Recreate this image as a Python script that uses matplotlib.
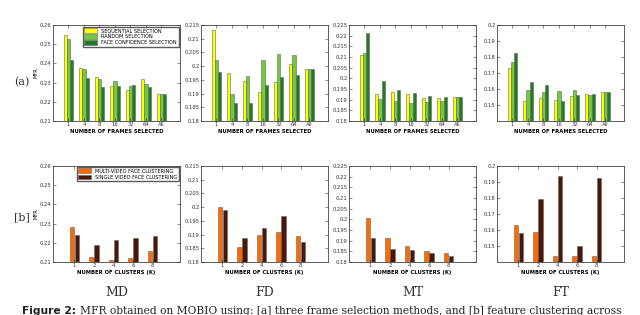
import matplotlib
matplotlib.use("Agg")
import matplotlib.pyplot as plt
import numpy as np

# top row: frame selection
frames = ["1", "4", "8", "16", "32", "64", "All"]
sel_names = ["SEQUENTIAL SELECTION", "RANDOM SELECTION", "FACE CONFIDENCE SELECTION"]
sel_md = [[0.2548, 0.2376, 0.2327, 0.2282, 0.2261, 0.2319, 0.2239],
          [0.2525, 0.2371, 0.2319, 0.2310, 0.2282, 0.2291, 0.2239],
          [0.2416, 0.2326, 0.2277, 0.2282, 0.2287, 0.2275, 0.2239]]
sel_fd = [[0.2132, 0.1975, 0.1946, 0.1907, 0.1943, 0.2009, 0.1991],
          [0.2021, 0.1898, 0.1965, 0.2021, 0.2044, 0.2041, 0.1991],
          [0.1979, 0.1864, 0.1867, 0.1930, 0.1962, 0.1967, 0.1991]]
sel_mt = [[0.2108, 0.1928, 0.1934, 0.1925, 0.1906, 0.1908, 0.1914],
          [0.2119, 0.1903, 0.1894, 0.1884, 0.1889, 0.1895, 0.1914],
          [0.2211, 0.1988, 0.1945, 0.1931, 0.1917, 0.1912, 0.1914]]
sel_ft = [[0.1733, 0.1525, 0.1542, 0.1533, 0.1554, 0.1567, 0.1581],
          [0.1771, 0.1594, 0.1579, 0.1590, 0.1596, 0.1562, 0.1581],
          [0.1827, 0.1646, 0.1627, 0.1525, 0.1560, 0.1567, 0.1581]]

# bottom row: clustering
clusters = ["1", "2", "4", "6", "8"]
clu_names = ["MULTI-VIDEO FACE CLUSTERING", "SINGLE VIDEO FACE CLUSTERING"]
clu_md = [[0.2284, 0.2124, 0.2112, 0.2119, 0.2155],
          [0.2241, 0.2190, 0.2214, 0.2224, 0.2233]]
clu_fd = [[0.1999, 0.1855, 0.1899, 0.1910, 0.1894],
          [0.1989, 0.1887, 0.1925, 0.1968, 0.1874]]
clu_mt = [[0.2008, 0.1913, 0.1874, 0.1850, 0.1840],
          [0.1913, 0.1860, 0.1857, 0.1843, 0.1829]]
clu_ft = [[0.1634, 0.1590, 0.1437, 0.1437, 0.1437],
          [0.1582, 0.1791, 0.1936, 0.1501, 0.1926]]

panel_names = ["MD", "FD", "MT", "FT"]
ylims = [(0.21, 0.26, 0.01), (0.18, 0.215, 0.005), (0.18, 0.225, 0.005), (0.14, 0.20, 0.01)]

sel_colors = ["#ffff00", "#6fcb3a", "#1f7d1f"]
clu_colors = ["#ff6a00", "#4a1808"]

caption_head = "Figure 2:"
caption_body = "MFR obtained on MOBIO using: [a] three frame selection methods, and [b] feature clustering across"

W, H = 640, 315
fig = plt.figure(figsize=(W / 100, H / 100), dpi=100)


def px_axes(x0, y0, x1, y1):
    return fig.add_axes([x0 / W, 1 - y1 / H, (x1 - x0) / W, (y1 - y0) / H])


def style(ax, lo, hi, step, skip_first=False):
    ax.set_ylim(lo, hi)
    ticks = np.arange(lo, hi + step / 2, step)
    if skip_first:
        ticks = ticks[1:]
    ax.set_yticks(ticks)
    ax.set_yticklabels(["%g" % round(t, 3) for t in ticks])
    ax.tick_params(direction="in", length=2, width=0.4, labelsize=3.8, pad=1,
                   top=True, right=True, colors="#333333")
    for s in ax.spines.values():
        s.set_linewidth(0.6)
        s.set_color("#444444")


lefts = [53, 201, 349, 497]
top_data = [sel_md, sel_fd, sel_mt, sel_ft]
bot_data = [clu_md, clu_fd, clu_mt, clu_ft]

for i in range(4):
    lo, hi, step = ylims[i]

    # frame selection
    ax = px_axes(lefts[i], 25, lefts[i] + 127, 121)
    x = np.arange(1, len(frames) + 1)
    for k in range(3):
        ax.bar(x + (k - 1) * 0.21, top_data[i][k], width=0.21,
               color=sel_colors[k], edgecolor="#666666", linewidth=0.4,
               label=sel_names[k])
    ax.set_xlim(0, 8.2)
    ax.set_xticks(x)
    ax.set_xticklabels(frames)
    style(ax, lo, hi, step, skip_first=(i == 3))
    ax.set_xlabel("NUMBER OF FRAMES SELECTED", fontsize=3.8, labelpad=1, fontweight="bold")
    if i == 0:
        ax.set_ylabel("MFR", fontsize=3.6, labelpad=1)
        ax.legend(loc="upper right", fontsize=3.6, frameon=True, fancybox=False,
                  edgecolor="#333333", borderaxespad=0.3, handlelength=2.6,
                  handleheight=1.1, labelspacing=0.2, borderpad=0.3)
        fig.text(22 / W, 1 - 82 / H, "(a)", fontsize=8, family="DejaVu Serif",
                 ha="center", va="center", color="#333333")

    # clustering
    ax = px_axes(lefts[i], 166, lefts[i] + 127, 262)
    x = np.arange(1, len(clusters) + 1)
    for k in range(2):
        ax.bar(x + (k - 0.5) * 0.26, bot_data[i][k], width=0.22,
               color=clu_colors[k], edgecolor="#666666", linewidth=0.4,
               label=clu_names[k])
    ax.set_xlim(-0.1, 6.4)
    ax.set_xticks(x)
    ax.set_xticklabels(clusters)
    style(ax, lo, hi, step, skip_first=(i == 3))
    ax.set_xlabel("NUMBER OF CLUSTERS (K)", fontsize=3.8, labelpad=1, fontweight="bold")
    if i == 0:
        ax.set_ylabel("MFR", fontsize=3.6, labelpad=1)
        ax.legend(loc="upper right", fontsize=3.6, frameon=True, fancybox=False,
                  edgecolor="#333333", borderaxespad=0.2, handlelength=2.6,
                  handleheight=1.1, labelspacing=0.2, borderpad=0.3)
        fig.text(22 / W, 1 - 217 / H, "[b]", fontsize=8, family="DejaVu Serif",
                 ha="center", va="center", color="#333333")

    fig.text((lefts[i] + 63.5) / W, 1 - 293 / H, panel_names[i], fontsize=9,
             family="DejaVu Serif", ha="center", va="center", color="#333333")

# caption, squeezed to span x = 22 .. 623 px
fs = 8.0
head = fig.text(22 / W, 1 - 306 / H, caption_head, fontsize=fs, fontweight="bold",
                family="DejaVu Sans", ha="left", va="top", color="#222222")
fig.canvas.draw()
r = fig.canvas.get_renderer()
hx = head.get_window_extent(r).x1
body = fig.text((hx + 4) / W, 1 - 306 / H, caption_body, fontsize=fs,
                family="DejaVu Serif", ha="left", va="top", color="#222222")
total = body.get_window_extent(r).x1 - 22
scale = 601 / total
head.set_fontsize(fs * scale)
fig.canvas.draw()
hx = head.get_window_extent(r).x1
body.set_position(((hx + 4) / W, 1 - 306 / H))
body.set_fontsize(fs * scale)

fig.savefig("out.png", dpi=100)
